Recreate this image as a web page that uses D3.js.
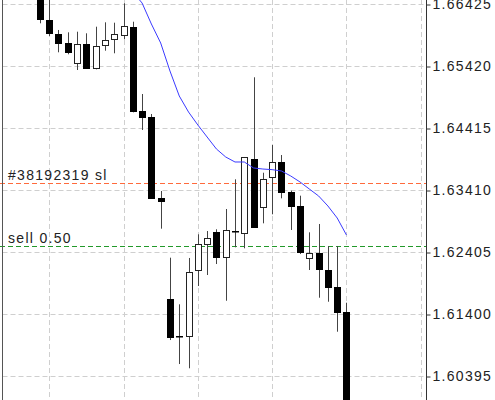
<!DOCTYPE html>
<html>
<head>
<meta charset="utf-8">
<script src="https://cdn.jsdelivr.net/npm/d3@7"></script>
<style>
  body { margin: 0; background: #fff; }
  svg { display: block; }
  text { font-family: "Liberation Sans", Arial, sans-serif; font-size: 14px; fill: #222; letter-spacing: 1.3px; }
</style>
</head>
<body>
<div id="chart"></div>
<script>
// bars, oldest first
const opens  = [1.66571, 1.66166, 1.65939, 1.65788, 1.65464, 1.65772, 1.65392, 1.65760, 1.65863, 1.65922,
                1.66057, 1.64691, 1.64601, 1.63285, 1.61648, 1.61045, 1.61043, 1.62113, 1.62535, 1.62734,
                1.62319, 1.62752, 1.62708, 1.63912, 1.63139, 1.63616, 1.63864, 1.63382, 1.63151, 1.62303,
                1.62394, 1.62113, 1.61833, 1.61427]
const highs  = [1.66684, 1.66620, 1.66004, 1.65966, 1.65976, 1.65950, 1.66057, 1.66128, 1.66122, 1.66436,
                1.66138, 1.64966, 1.64642, 1.63394, 1.62313, 1.61557, 1.62308, 1.62692, 1.62745, 1.62773,
                1.63102, 1.63583, 1.63945, 1.65237, 1.63690, 1.64139, 1.63977, 1.63399, 1.63318, 1.62724,
                1.62859, 1.62502, 1.62502, 1.61583]
const lows   = [1.66112, 1.65906, 1.65642, 1.65610, 1.65355, 1.65390, 1.65366, 1.65668, 1.65626, 1.65853,
                1.64669, 1.64383, 1.63272, 1.62783, 1.60978, 1.60589, 1.60520, 1.61854, 1.62032, 1.62210,
                1.61615, 1.62481, 1.62465, 1.62794, 1.62870, 1.63016, 1.63275, 1.62762, 1.62372, 1.62113,
                1.61664, 1.61599, 1.61113, 1.59600]
const closes = [1.66177, 1.65950, 1.65798, 1.65652, 1.65772, 1.65392, 1.65749, 1.65846, 1.65939, 1.66064,
                1.64691, 1.64601, 1.63288, 1.63224, 1.61027, 1.61043, 1.62086, 1.62530, 1.62627, 1.62329,
                1.62762, 1.62750, 1.63940, 1.62805, 1.63593, 1.63859, 1.63382, 1.63155, 1.62410, 1.62384,
                1.62124, 1.61842, 1.61427, 1.59682]
// moving average, only the part that shows
const maStart = 10
const maValues = [1.66620, 1.66441, 1.66101, 1.65793, 1.65339, 1.64934, 1.64674, 1.64464, 1.64269, 1.64075,
                  1.63945, 1.63864, 1.63864, 1.63767, 1.63750, 1.63740, 1.63718, 1.63637, 1.63540, 1.63426,
                  1.63313, 1.63151, 1.62956, 1.62680]

const priceTicks = [1.66425, 1.65420, 1.64415, 1.63410, 1.62405, 1.61400, 1.60395]
const gridBars = [1, 9, 17, 25, 33, 41]

const slPrice = 1.63523, slLabel = "#38192319 sl"
const sellPrice = 1.62500, sellLabel = "sell 0.50"

const width = 495, height = 400
const plotLeft = 2.5, plotRight = 426.5

const x = d3.scaleLinear().domain([0, 41]).range([39.9, 420.8])
const y = d3.scaleLinear().domain([priceTicks[0], priceTicks[6]]).range([4, 376])

const svg = d3.select("#chart").append("svg")
    .attr("width", width)
    .attr("height", height)

// grid
const grid = svg.append("g")
  .attr("stroke", "#cfcfcf")
  .attr("stroke-dasharray", "5,3")
grid.selectAll("line.h").data(priceTicks).enter().append("line")
    .attr("class", "h")
    .attr("x1", plotLeft).attr("x2", plotRight - 1)
    .attr("y1", d => Math.round(y(d)) + 0.5)
    .attr("y2", d => Math.round(y(d)) + 0.5)
grid.selectAll("line.v").data(gridBars).enter().append("line")
    .attr("class", "v")
    .attr("y1", 0).attr("y2", height)
    .attr("x1", d => Math.round(x(d)) + 0.5)
    .attr("x2", d => Math.round(x(d)) + 0.5)

// order lines
const orders = [
  {price: slPrice, label: slLabel, color: "#ff6a3c"},
  {price: sellPrice, label: sellLabel, color: "#22992a"}
]
const og = svg.append("g")
og.selectAll("line").data(orders).enter().append("line")
    .attr("x1", 0).attr("x2", plotRight)
    .attr("y1", d => Math.round(y(d.price)) + 0.5)
    .attr("y2", d => Math.round(y(d.price)) + 0.5)
    .attr("stroke", d => d.color)
    .attr("stroke-dasharray", "5,3")
og.selectAll("text").data(orders).enter().append("text")
    .attr("x", 8)
    .attr("y", d => Math.round(y(d.price)) - 3)
    .text(d => d.label)

// candles
const bars = opens.map((o, i) => ({i, o, h: highs[i], l: lows[i], c: closes[i]}))
const cg = svg.append("g")
cg.selectAll("line.wick").data(bars).enter().append("line")
    .attr("class", "wick")
    .attr("x1", d => Math.round(x(d.i)) + 0.5)
    .attr("x2", d => Math.round(x(d.i)) + 0.5)
    .attr("y1", d => y(d.h))
    .attr("y2", d => y(d.l))
    .attr("stroke", "#444")
cg.selectAll("rect.body").data(bars).enter().append("rect")
    .attr("class", "body")
    .attr("x", d => Math.round(x(d.i)) - 2.5)
    .attr("width", 6)
    .attr("y", d => Math.round(y(Math.max(d.o, d.c))) + 0.5)
    .attr("height", d => Math.max(0.5, Math.round(y(Math.min(d.o, d.c))) - Math.round(y(Math.max(d.o, d.c)))))
    .attr("fill", d => d.c > d.o ? "#fff" : "#000")
    .attr("stroke", d => d.c > d.o ? "#222" : "#000")

// moving average
const line = d3.line()
  .x((d, k) => x(maStart + k))
  .y(d => y(d))
svg.append("path")
    .datum(maValues)
    .attr("d", line)
    .attr("fill", "none")
    .attr("stroke", "#3b3bff")
    .attr("stroke-width", 1)

// frame + price axis
svg.append("rect").attr("x", plotRight).attr("y", 0).attr("width", width - plotRight).attr("height", height).attr("fill", "#fff")
svg.append("line")
    .attr("x1", plotLeft).attr("x2", plotLeft).attr("y1", 0).attr("y2", height)
    .attr("stroke", "#555")
const axis = d3.axisRight(y).tickValues(priceTicks).tickFormat(d3.format(".5f")).tickSize(4).tickPadding(2)
svg.append("g")
    .attr("transform", "translate(" + plotRight + ",0.5)")
    .call(axis)
    .call(g => g.select(".domain").remove())
    .call(g => g.selectAll("line").attr("stroke", "#333"))
    .call(g => g.selectAll("text").attr("fill", "#222").style("font-size", "14px").style("font-family", '"Liberation Sans", Arial, sans-serif'))
svg.append("line")
    .attr("x1", plotRight).attr("x2", plotRight).attr("y1", 0).attr("y2", height)
    .attr("stroke", "#333")
</script>
</body>
</html>
